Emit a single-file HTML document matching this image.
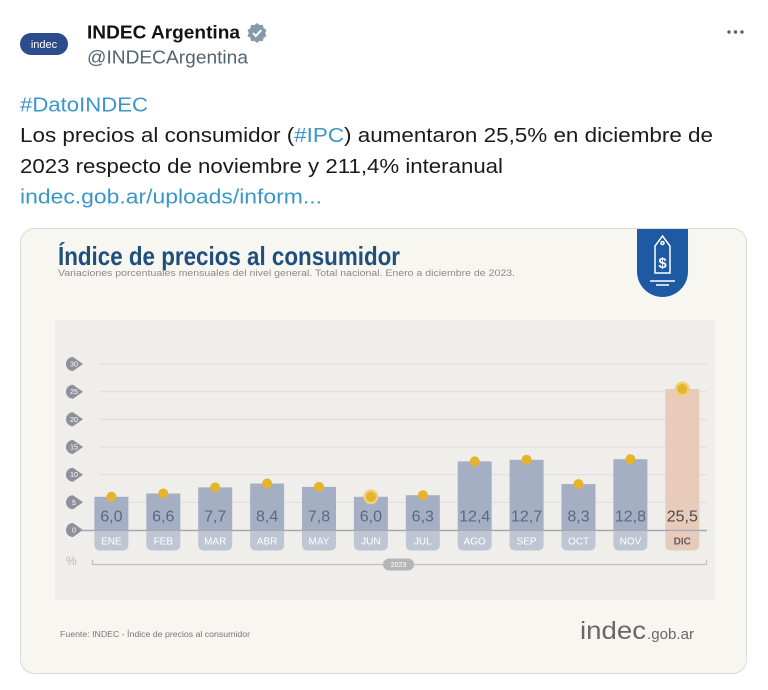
<!DOCTYPE html>
<html><head><meta charset="utf-8"><style>
html,body{margin:0;padding:0;background:#fff;width:768px;height:690px;overflow:hidden}
svg{display:block}
text{font-family:"Liberation Sans",sans-serif}
</style></head><body>
<svg width="768" height="690" viewBox="0 0 768 690" xmlns="http://www.w3.org/2000/svg">
<!-- header -->
<rect x="20" y="33" width="48" height="22" rx="11" fill="#2c4c8c"/>
<text x="44" y="48" font-size="11" fill="#fff" text-anchor="middle">indec</text>
<text x="87" y="38.5" font-size="18.5" font-weight="bold" fill="#0f1419" textLength="153" lengthAdjust="spacingAndGlyphs">INDEC Argentina</text>
<g transform="translate(257,33)">
<polygon fill="#829aab" points="0,-10 2.6,-7.9 5.9,-8.1 6.6,-4.8 9.5,-3.1 8.2,0 9.5,3.1 6.6,4.8 5.9,8.1 2.6,7.9 0,10 -2.6,7.9 -5.9,8.1 -6.6,4.8 -9.5,3.1 -8.2,0 -9.5,-3.1 -6.6,-4.8 -5.9,-8.1 -2.6,-7.9"/>
<path d="M-4,0 L-1.2,3 L4.3,-3" stroke="#fff" stroke-width="2" fill="none"/>
</g>
<text x="87" y="63.5" font-size="18" fill="#536471" textLength="161" lengthAdjust="spacingAndGlyphs">@INDECArgentina</text>
<circle cx="729" cy="32" r="1.7" fill="#536471"/><circle cx="735.5" cy="32" r="1.7" fill="#536471"/><circle cx="742" cy="32" r="1.7" fill="#536471"/>

<text x="20" y="111.5" font-size="20.5" fill="#3b97c9" textLength="128" lengthAdjust="spacingAndGlyphs">#DatoINDEC</text>
<text x="20" y="142" font-size="20.5" fill="#1a1a1a" textLength="693" lengthAdjust="spacingAndGlyphs">Los precios al consumidor (<tspan fill="#3b97c9">#IPC</tspan>) aumentaron 25,5% en diciembre de</text>
<text x="20" y="173" font-size="20.5" fill="#1a1a1a" textLength="483" lengthAdjust="spacingAndGlyphs">2023 respecto de noviembre y 211,4% interanual</text>
<text x="20" y="203.5" font-size="20.5" fill="#3b97c9" textLength="302" lengthAdjust="spacingAndGlyphs">indec.gob.ar/uploads/inform...</text>

<!-- card -->
<rect x="20.5" y="228.5" width="726" height="445" rx="14" fill="#f8f6f1" stroke="#dddbd7"/>
<rect x="55" y="320" width="660" height="280" fill="#f0eeea"/>

<text x="58" y="265" font-size="26" font-weight="bold" fill="#1f4f7d" textLength="342" lengthAdjust="spacingAndGlyphs">Índice de precios al consumidor</text>
<text x="58" y="276" font-size="9" fill="#8a8a8a" textLength="457" lengthAdjust="spacingAndGlyphs">Variaciones porcentuales mensuales del nivel general. Total nacional. Enero a diciembre de 2023.</text>

<!-- badge -->
<path d="M637,229 H688 V271.5 A25.5,25.5 0 0 1 637,271.5 Z" fill="#1d5aa3"/>
<g stroke="#fff" stroke-width="1.5" fill="none">
<path d="M662.5,236 L670,246 V273 H655 V246 Z"/>
<circle cx="662.5" cy="243" r="1.5"/>
<line x1="650" y1="281" x2="675" y2="281"/>
<line x1="656" y1="285" x2="669" y2="285"/>
</g>
<text x="662.5" y="268" font-size="15" font-weight="bold" fill="#fff" text-anchor="middle">$</text>

<!-- grid -->
<g stroke="#dedcd8" stroke-width="1">
<line x1="100" y1="364" x2="707" y2="364"/>
<line x1="100" y1="391.7" x2="707" y2="391.7"/>
<line x1="100" y1="419.3" x2="707" y2="419.3"/>
<line x1="100" y1="447" x2="707" y2="447"/>
<line x1="100" y1="474.7" x2="707" y2="474.7"/>
<line x1="100" y1="502.3" x2="707" y2="502.3"/>
</g>
<!-- y badges -->
<g fill="#8e909b">
<path d="M73,357 A7,7 0 1 0 73,371 L83,364 Z"/>
<path d="M73,384.7 A7,7 0 1 0 73,398.7 L83,391.7 Z"/>
<path d="M73,412.3 A7,7 0 1 0 73,426.3 L83,419.3 Z"/>
<path d="M73,440 A7,7 0 1 0 73,454 L83,447 Z"/>
<path d="M73,467.7 A7,7 0 1 0 73,481.7 L83,474.7 Z"/>
<path d="M73,495.3 A7,7 0 1 0 73,509.3 L83,502.3 Z"/>
<path d="M73,523 A7,7 0 1 0 73,537 L83,530 Z"/>
</g>
<g font-size="7" fill="#fff" text-anchor="middle">
<text x="74" y="366.5">30</text><text x="74" y="394.2">25</text><text x="74" y="421.8">20</text>
<text x="74" y="449.5">15</text><text x="74" y="477.2">10</text><text x="74" y="504.8">5</text><text x="74" y="532.5">0</text>
</g>

<!-- bars -->
<g fill="#a4afc3">
<rect x="94.4" y="496.8" width="34" height="33.2"/>
<rect x="146.3" y="493.5" width="34" height="36.5"/>
<rect x="198.2" y="487.4" width="34" height="42.6"/>
<rect x="250.1" y="483.5" width="34" height="46.5"/>
<rect x="302.0" y="486.9" width="34" height="43.1"/>
<rect x="353.9" y="496.8" width="34" height="33.2"/>
<rect x="405.8" y="495.2" width="34" height="34.8"/>
<rect x="457.7" y="461.4" width="34" height="68.6"/>
<rect x="509.6" y="459.8" width="34" height="70.2"/>
<rect x="561.5" y="484.1" width="34" height="45.9"/>
<rect x="613.4" y="459.2" width="34" height="70.8"/>
</g>
<rect x="665.3" y="389" width="34" height="141" fill="#e9cbbb"/>

<line x1="80" y1="530.5" x2="707" y2="530.5" stroke="#a5a8b0" stroke-width="1.5"/>

<!-- tabs -->
<g fill="#bec6d4">
<path d="M94.4,531.5 h34 v13 q0,6 -6,6 h-22 q-6,0 -6,-6 z"/>
<path d="M146.3,531.5 h34 v13 q0,6 -6,6 h-22 q-6,0 -6,-6 z"/>
<path d="M198.2,531.5 h34 v13 q0,6 -6,6 h-22 q-6,0 -6,-6 z"/>
<path d="M250.1,531.5 h34 v13 q0,6 -6,6 h-22 q-6,0 -6,-6 z"/>
<path d="M302.0,531.5 h34 v13 q0,6 -6,6 h-22 q-6,0 -6,-6 z"/>
<path d="M353.9,531.5 h34 v13 q0,6 -6,6 h-22 q-6,0 -6,-6 z"/>
<path d="M405.8,531.5 h34 v13 q0,6 -6,6 h-22 q-6,0 -6,-6 z"/>
<path d="M457.7,531.5 h34 v13 q0,6 -6,6 h-22 q-6,0 -6,-6 z"/>
<path d="M509.6,531.5 h34 v13 q0,6 -6,6 h-22 q-6,0 -6,-6 z"/>
<path d="M561.5,531.5 h34 v13 q0,6 -6,6 h-22 q-6,0 -6,-6 z"/>
<path d="M613.4,531.5 h34 v13 q0,6 -6,6 h-22 q-6,0 -6,-6 z"/>
</g>
<path d="M665.3,531.5 h34 v13 q0,6 -6,6 h-22 q-6,0 -6,-6 z" fill="#e6cbbd"/>

<g font-size="10" fill="#fff" text-anchor="middle">
<text x="111.4" y="544.5">ENE</text><text x="163.3" y="544.5">FEB</text><text x="215.2" y="544.5">MAR</text>
<text x="267.1" y="544.5">ABR</text><text x="319" y="544.5">MAY</text><text x="370.9" y="544.5">JUN</text>
<text x="422.8" y="544.5">JUL</text><text x="474.7" y="544.5">AGO</text><text x="526.6" y="544.5">SEP</text>
<text x="578.5" y="544.5">OCT</text><text x="630.4" y="544.5">NOV</text>
</g>
<text x="682.3" y="544.5" font-size="10" font-weight="bold" fill="#6d5b57" text-anchor="middle">DIC</text>

<g font-size="16" fill="#5b6882" text-anchor="middle">
<text x="111.4" y="521.5">6,0</text><text x="163.3" y="521.5">6,6</text><text x="215.2" y="521.5">7,7</text>
<text x="267.1" y="521.5">8,4</text><text x="319" y="521.5">7,8</text><text x="370.9" y="521.5">6,0</text>
<text x="422.8" y="521.5">6,3</text><text x="474.7" y="521.5">12,4</text><text x="526.6" y="521.5">12,7</text>
<text x="578.5" y="521.5">8,3</text><text x="630.4" y="521.5">12,8</text>
</g>
<text x="682.3" y="521.5" font-size="16" fill="#4a4a50" text-anchor="middle">25,5</text>

<!-- dots -->
<circle cx="370.9" cy="496.8" r="7.5" fill="#f0d07a"/>
<circle cx="682.3" cy="389" r="7.5" fill="#f0d07a"/>
<g fill="#e5b42a">
<circle cx="111.4" cy="496.8" r="5"/><circle cx="163.3" cy="493.5" r="5"/><circle cx="215.2" cy="487.4" r="5"/>
<circle cx="267.1" cy="483.5" r="5"/><circle cx="319" cy="486.9" r="5"/><circle cx="370.9" cy="496.8" r="5"/>
<circle cx="422.8" cy="495.2" r="5"/><circle cx="474.7" cy="461.4" r="5"/><circle cx="526.6" cy="459.8" r="5"/>
<circle cx="578.5" cy="484.1" r="5"/><circle cx="630.4" cy="459.2" r="5"/><circle cx="682.3" cy="389" r="5"/>
</g>

<!-- lower axis -->
<text x="66" y="565" font-size="12" fill="#b8b8b8">%</text>
<path d="M92.5,560 V564.5 H706.5 V560" stroke="#c2c2c2" stroke-width="1.2" fill="none"/>
<rect x="383" y="558.5" width="31" height="12" rx="6" fill="#b5b5b5"/>
<text x="398.5" y="567" font-size="7" fill="#fff" text-anchor="middle">2023</text>

<!-- footer -->
<text x="60" y="637" font-size="8" fill="#777" textLength="190" lengthAdjust="spacingAndGlyphs">Fuente: INDEC - Índice de precios al consumidor</text>
<text x="580" y="639" font-size="25" fill="#686868" textLength="66" lengthAdjust="spacingAndGlyphs">indec</text>
<text x="647" y="639" font-size="15" fill="#686868" textLength="47" lengthAdjust="spacingAndGlyphs">.gob.ar</text>
</svg>
</body></html>
